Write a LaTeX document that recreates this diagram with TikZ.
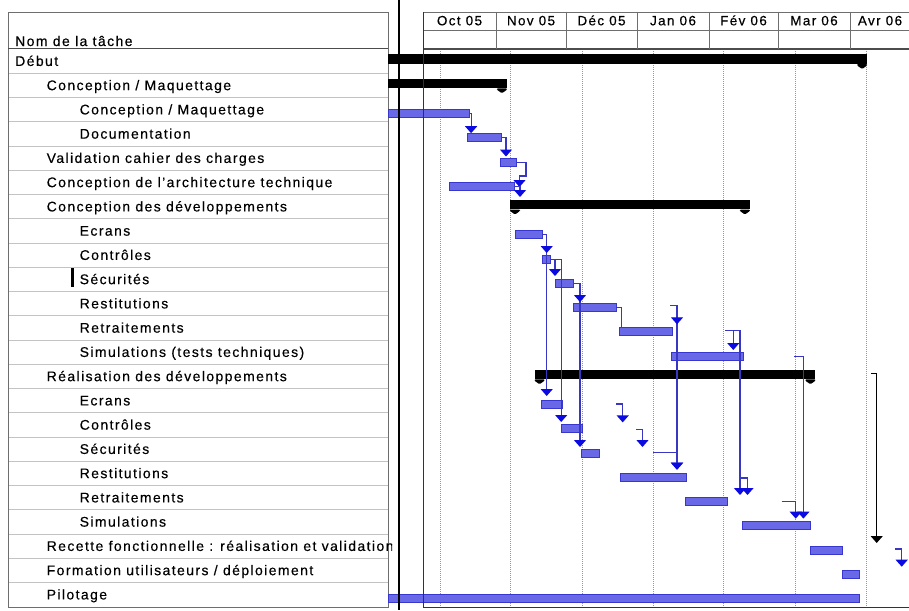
\documentclass[tikz,border=0pt]{standalone}
\usepackage{fontspec}
\setmainfont{Liberation Sans}[LetterSpace=10,FakeBold=0.3]
\usetikzlibrary{arrows.meta}

\definecolor{barfill}{RGB}{105,105,232}
\definecolor{barline}{RGB}{55,55,205}
\definecolor{linkblue}{RGB}{55,55,195}
\definecolor{tipblue}{RGB}{10,10,225}
\definecolor{gridgray}{RGB}{150,150,150}
\definecolor{rulegray}{RGB}{195,195,195}
\definecolor{framegray}{RGB}{110,110,110}

% task bar: name, row, start x, end x
\newcommand\taskbar[4]{%
  \node[taskbarstyle, minimum width={#4pt-#3pt}] (#1) at (#3,{61.1+24.25*#2-0.5}) {};}
% summary bar: name, row, start x, end x
\newcommand\sumbar[4]{%
  \node[sumbarstyle, minimum width={#4pt-#3pt}] (#1) at (#3,{61.1+24.25*#2-7}) {};
  \fill[black, rounded corners=1pt] (#1.south east) -- ++(0,1.5) -- ++(-5,3.5) -- ++(-5,-3.5) -- ++(0,-1.5) -- cycle;}
\newcommand\leftcap[1]{%
  \fill[black, rounded corners=1pt] (#1.south west) -- ++(0,1.5) -- ++(5,3.5) -- ++(5,-3.5) -- ++(0,-1.5) -- cycle;}
% task label: name, x, row, text
\newcommand\tasklabel[4]{%
  \node[tasktext] (#1) at (#2,{61.1+24.25*#3+4.8}) {#4};}

\begin{document}
\begin{tikzpicture}[x=1pt,y=-1pt,
  tasktext/.style={anchor=base west, inner sep=0pt, font=\fontsize{14}{16}\selectfont},
  monthtext/.style={anchor=base, inner sep=0pt, font=\fontsize{13.5}{16}\selectfont},
  taskbarstyle/.style={anchor=north west, inner sep=0pt, minimum height=8pt,
    fill=barfill, draw=barline, line width=1pt},
  sumbarstyle/.style={anchor=north west, inner sep=0pt, minimum height=9.5pt,
    fill=black, draw=none},
  link/.style={draw=linkblue, line width=1.2pt,
    -{Triangle[width=12pt,length=7pt,color=tipblue]}},
  plainlink/.style={draw=linkblue, line width=1.2pt},
  blacklink/.style={draw=black, line width=1.2pt,
    -{Triangle[width=12pt,length=7pt]}},
  gridline/.style={draw=gridgray, line width=1pt, densely dotted},
  rowrule/.style={draw=rulegray, line width=0.8pt},
  headrule/.style={draw=framegray, line width=0.9pt}]

\useasboundingbox (0,0) rectangle (909,610);
\fill[white] (0,0) rectangle (909,610);

% ---------- timescale gridlines ----------
\foreach \gx in {440,510,582,653,723,795,866}
  \draw[gridline] (\gx,49) -- (\gx,607);

% ---------- task table ----------
\foreach \k in {1,...,22}
  \draw[rowrule] (8,{49+24.25*\k}) -- (388,{49+24.25*\k});
\draw[headrule] (8,12) rectangle (388,607);
\draw[black!70, line width=1.2pt] (8,48.5) -- (388,48.5);

% ---------- timescale header ----------
\draw[headrule] (423,12) -- (909,12) (423,30) -- (909,30);
\draw[black!70, line width=1.1pt] (423,49) -- (909,49);
\foreach \mx in {496,566,637,709,778,850}
  \draw[headrule] (\mx,12) -- (\mx,49);
\node[monthtext] (oct) at (459.5,25.3) {Oct 05};
\node[monthtext] (nov) at (531,25.3) {Nov 05};
\node[monthtext] (dec) at (601.5,25.3) {Déc 05};
\node[monthtext] (jan) at (673,25.3) {Jan 06};
\node[monthtext] (fev) at (743.5,25.3) {Fév 06};
\node[monthtext] (mar) at (814,25.3) {Mar 06};
\node[monthtext] (avr) at (880,25.3) {Avr 06};

% ---------- summary bars ----------
\sumbar{s0}{0}{388}{866.7}
\sumbar{s1}{1}{388}{506.5}
\sumbar{s6}{6}{510}{749.5}\leftcap{s6}
\sumbar{s13}{13}{534.5}{815}\leftcap{s13}

% ---------- task bars ----------
\taskbar{b2}{2}{388}{469.4}
\taskbar{b3}{3}{467}{500.8}
\taskbar{b4}{4}{499.5}{516}
\taskbar{b5}{5}{449.3}{514}
\taskbar{b7}{7}{515}{541.7}
\taskbar{b8}{8}{541.7}{550}
\taskbar{b9}{9}{555}{573.3}
\taskbar{b10}{10}{573.3}{616}
\taskbar{b11}{11}{619}{671.7}
\taskbar{b12}{12}{671}{742.7}
\taskbar{b14}{14}{541}{562.2}
\taskbar{b15}{15}{561}{581.8}
\taskbar{b16}{16}{581.4}{599.3}
\taskbar{b17}{17}{619.5}{686.4}
\taskbar{b18}{18}{685}{726.8}
\taskbar{b19}{19}{741.7}{810}
\taskbar{b20}{20}{810}{841.7}
\taskbar{b21}{21}{841.7}{859.3}
\taskbar{b22}{22}{388}{859.3}

% ---------- link end points ----------
\coordinate (e23) at (471.1,133.2);
\coordinate (e34) at (506,156.5);
\coordinate (k46) at (526,176);
\coordinate (e46a) at (519.5,187);
\coordinate (e56) at (520,197);
\coordinate (e78) at (546.7,253);
\coordinate (e714) at (546.7,396);
\coordinate (e89) at (555,276);
\coordinate (e815) at (561.2,422);
\coordinate (e910) at (580,302);
\coordinate (e916) at (580,447);
\coordinate (e1011) at (621.7,327.4);
\coordinate (h1) at (670,305.7);
\coordinate (e1a) at (677,324.3);
\coordinate (e1b) at (677,469.7);
\coordinate (h2) at (725,330.7);
\coordinate (e2a) at (733.3,350);
\coordinate (e2b) at (740,495);
\coordinate (h3) at (794.3,356.5);
\coordinate (e3) at (803.4,518.6);
\coordinate (hA) at (616.2,403.9);
\coordinate (eA) at (622.7,422.4);
\coordinate (hB) at (636.4,429.2);
\coordinate (eB) at (642.5,447);
\coordinate (hC) at (653.3,452.8);
\coordinate (eC) at (677,469.7);
\coordinate (hD) at (740,478);
\coordinate (eD) at (747.5,495);
\coordinate (hE) at (781.5,501.7);
\coordinate (eE) at (795.7,518.6);
\coordinate (hF) at (895,549);
\coordinate (eF) at (901.7,566.7);
\coordinate (hG) at (871,373.5);
\coordinate (eG) at (876.7,543);

% ---------- links ----------
\draw[link] (b2.east) -| (e23);
\draw[link] (b3.east) -| (e34);
\draw[link] (b4.east) -| (k46) -| (e46a);
\draw[link] (b5.east) -| (e56);
\draw[link] (b7.east) -| (e714);
\draw[link] (b7.east) -| (e78);
\draw[link] (b8.east) -| (e815);
\draw[link] (b8.east) -| (e89);
\draw[link] (b9.east) -| (e916);
\draw[link] (b9.east) -| (e910);
\draw[plainlink] (b10.east) -| (e1011);
\draw[link] (h1) -| (e1b);
\draw[link] (h1) -| (e1a);
\draw[link] (h2) -| (e2b);
\draw[link] (h2) -| (e2a);
\draw[link] (h3) -| (e3);
\draw[link] (hA) -| (eA);
\draw[link] (hB) -| (eB);
\draw[link] (hC) -| (eC);
\draw[link] (hD) -| (eD);
\draw[link] (hE) -| (eE);
\draw[link] (hF) -| (eF);
\draw[blacklink] (hG) -| (eG);

% ---------- pane borders ----------
\draw[black!80, line width=1pt] (423,12) -- (423,607) -- (909,607);
\draw[black, line width=1.5pt] (399,0) -- (399,610);

% ---------- task names ----------
\begin{scope}
\clip (0,0) rectangle (392,610);
\node[tasktext] (head) at (15,46) {Nom de la tâche};
\tasklabel{n0}{15}{0}{Début}
\tasklabel{n1}{46.5}{1}{Conception / Maquettage}
\tasklabel{n2}{79.5}{2}{Conception / Maquettage}
\tasklabel{n3}{79.5}{3}{Documentation}
\tasklabel{n4}{46.5}{4}{Validation cahier des charges}
\tasklabel{n5}{46.5}{5}{Conception de l'architecture technique}
\tasklabel{n6}{46.5}{6}{Conception des développements}
\tasklabel{n7}{79.5}{7}{Ecrans}
\tasklabel{n8}{79.5}{8}{Contrôles}
\tasklabel{n9}{79.5}{9}{Sécurités}
\tasklabel{n10}{79.5}{10}{Restitutions}
\tasklabel{n11}{79.5}{11}{Retraitements}
\tasklabel{n12}{79.5}{12}{Simulations (tests techniques)}
\tasklabel{n13}{46.5}{13}{Réalisation des développements}
\tasklabel{n14}{79.5}{14}{Ecrans}
\tasklabel{n15}{79.5}{15}{Contrôles}
\tasklabel{n16}{79.5}{16}{Sécurités}
\tasklabel{n17}{79.5}{17}{Restitutions}
\tasklabel{n18}{79.5}{18}{Retraitements}
\tasklabel{n19}{79.5}{19}{Simulations}
\tasklabel{n20}{46.5}{20}{Recette fonctionnelle : réalisation et validation}
\tasklabel{n21}{46.5}{21}{Formation utilisateurs / déploiement}
\tasklabel{n22}{46.5}{22}{Pilotage}
\end{scope}
% text cursor in the Sécurités cell
\fill[black] (71,268) rectangle (73.5,287);

\end{tikzpicture}
\end{document}
